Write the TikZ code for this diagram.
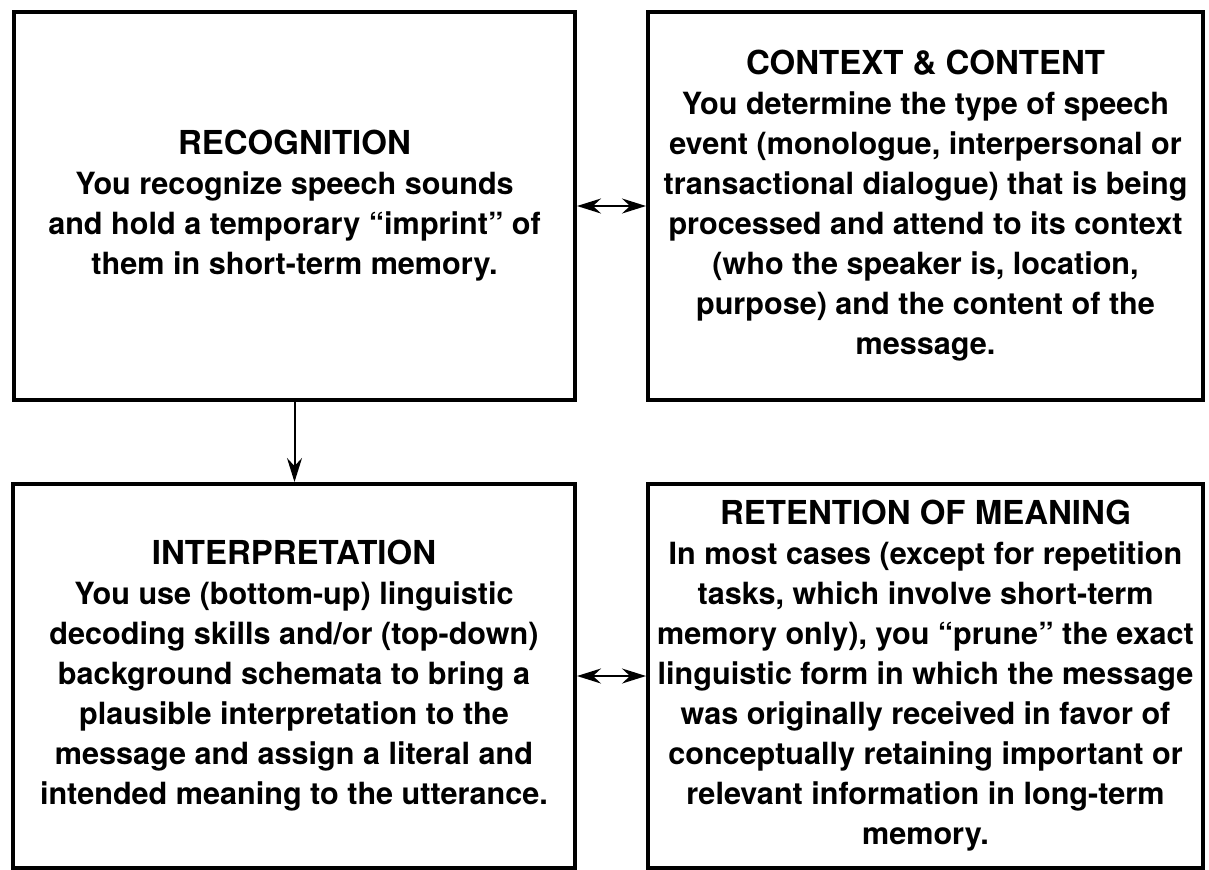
\documentclass[tikz,border=0pt]{standalone}
\usepackage{fontspec}
\setmainfont{TeX Gyre Heros}
\usetikzlibrary{arrows.meta}
\newcommand{\boxtitle}[1]{{\fontsize{16.5}{20}\selectfont #1}}
\begin{document}
\begin{tikzpicture}[x=0.5pt,y=-0.5pt,
  box/.style={draw, line width=2pt, inner sep=0pt, align=center,
    font=\bfseries\fontsize{15.3}{20}\selectfont},
  >={Stealth[length=12pt,width=7.5pt,inset=4pt]},
  link/.style={line width=1pt}]
\useasboundingbox (0,0) rectangle (1209,869);
\node[box, minimum width=280.5pt, minimum height=194pt] (A) at (294.5,206) {\boxtitle{RECOGNITION}\\
You recognize speech sounds\\
and hold a temporary “imprint” of\\
them in short-term memory.};
\node[box, minimum width=277.5pt, minimum height=194pt] (B) at (925.5,206) {\boxtitle{CONTEXT \& CONTENT}\\
You determine the type of speech\\
event (monologue, interpersonal or\\
transactional dialogue) that is being\\
processed and attend to its context\\
(who the speaker is, location,\\
purpose) and the content of the\\
message.};
\node[box, minimum width=281pt, minimum height=192pt] (C) at (294,676) {\boxtitle{INTERPRETATION}\\
You use (bottom-up) linguistic\\
decoding skills and/or (top-down)\\
background schemata to bring a\\
plausible interpretation to the\\
message and assign a literal and\\
intended meaning to the utterance.};
\node[box, minimum width=277.5pt, minimum height=192pt] (D) at (925.5,676) {\boxtitle{RETENTION OF MEANING}\\
In most cases (except for repetition\\
tasks, which involve short-term\\
memory only), you “prune” the exact\\
linguistic form in which the message\\
was originally received in favor of\\
conceptually retaining important or\\
relevant information in long-term\\
memory.};
\draw[link, <->] (A.east) -- (B.west);
\draw[link, <->] (C.east) -- (D.west);
\draw[link, ->] (A.south) -- (A.south |- C.north);
\end{tikzpicture}
\end{document}
